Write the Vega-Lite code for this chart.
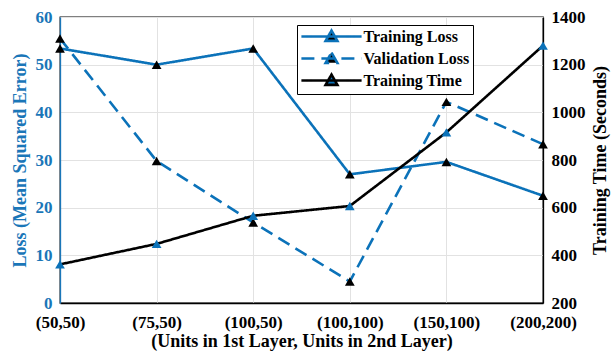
{
  "$schema": "https://vega.github.io/schema/vega-lite/v6.json",
  "width": 483,
  "height": 286,
  "autosize": {"type": "none"},
  "padding": {"left": 60, "top": 17, "right": 70, "bottom": 49},
  "background": "white",
  "config": {
    "font": "Liberation Serif",
    "view": {"stroke": "black", "strokeWidth": 1.3},
    "axis": {
      "labelFont": "Liberation Serif",
      "labelFontWeight": "bold",
      "labelFontSize": 17,
      "titleFont": "Liberation Serif",
      "titleFontWeight": "bold",
      "titleFontSize": 18,
      "gridColor": "#e2e2e2",
      "gridWidth": 1,
      "ticks": false,
      "domainWidth": 1.3
    },
    "legend": {
      "symbolType": "M-4.3,0L4.3,0M0,-0.84L0.84,0.62L-0.84,0.62Z",
      "symbolSize": 196,
      "symbolStrokeWidth": 2.6,
      "symbolOffset": 23,
      "labelFont": "Liberation Serif",
      "labelFontSize": 16,
      "labelFontWeight": "bold",
      "labelColor": "black",
      "labelOffset": 23.5,
      "strokeColor": "black",
      "fillColor": "white",
      "padding": 3,
      "rowPadding": 0
    }
  },
  "data": {
    "values": [
      {"config": "(50,50)", "series": "Training Loss", "value": 53.4, "axis": "loss"},
      {"config": "(75,50)", "series": "Training Loss", "value": 50.0, "axis": "loss"},
      {"config": "(100,50)", "series": "Training Loss", "value": 53.4, "axis": "loss"},
      {"config": "(100,100)", "series": "Training Loss", "value": 27.0, "axis": "loss"},
      {"config": "(150,100)", "series": "Training Loss", "value": 29.6, "axis": "loss"},
      {"config": "(200,200)", "series": "Training Loss", "value": 22.5, "axis": "loss"},
      {"config": "(50,50)", "series": "Validation Loss", "value": 55.5, "axis": "loss"},
      {"config": "(75,50)", "series": "Validation Loss", "value": 29.8, "axis": "loss"},
      {"config": "(100,50)", "series": "Validation Loss", "value": 16.9, "axis": "loss"},
      {"config": "(100,100)", "series": "Validation Loss", "value": 4.5, "axis": "loss"},
      {"config": "(150,100)", "series": "Validation Loss", "value": 42.2, "axis": "loss"},
      {"config": "(200,200)", "series": "Validation Loss", "value": 33.3, "axis": "loss"},
      {"config": "(50,50)", "series": "Training Time", "value": 362, "axis": "time"},
      {"config": "(75,50)", "series": "Training Time", "value": 448, "axis": "time"},
      {"config": "(100,50)", "series": "Training Time", "value": 566, "axis": "time"},
      {"config": "(100,100)", "series": "Training Time", "value": 607, "axis": "time"},
      {"config": "(150,100)", "series": "Training Time", "value": 916, "axis": "time"},
      {"config": "(200,200)", "series": "Training Time", "value": 1280, "axis": "time"}
    ]
  },
  "encoding": {
    "x": {
      "field": "config",
      "type": "ordinal",
      "sort": ["(50,50)", "(75,50)", "(100,50)", "(100,100)", "(150,100)", "(200,200)"],
      "scale": {"type": "point", "padding": 0},
      "axis": {
        "labelAngle": 0,
        "labelAlign": "center",
        "labelFlush": false,
        "labelOverlap": false,
        "title": "(Units in 1st Layer, Units in 2nd Layer)",
        "grid": true,
        "domainColor": "black",
        "labelColor": "black",
        "titleColor": "black",
        "labelPadding": 11,
        "titlePadding": 2
      }
    }
  },
  "layer": [
    {
      "transform": [{"filter": "datum.axis === 'loss'"}],
      "layer": [
        {
          "mark": {"type": "line", "strokeWidth": 2.6},
          "encoding": {
            "y": {
              "field": "value",
              "type": "quantitative",
              "scale": {"domain": [0, 60], "nice": false},
              "axis": {
                "orient": "left",
                "values": [0, 10, 20, 30, 40, 50, 60],
                "title": "Loss (Mean Squared Error)",
                "grid": true,
                "domainColor": "#1a76b8",
                "labelColor": "#1a76b8",
                "titleColor": "#1a76b8",
                "labelPadding": 8,
                "titlePadding": 6
              }
            },
            "stroke": {
              "field": "series",
              "type": "nominal",
              "scale": {
                "domain": ["Training Loss", "Validation Loss", "Training Time"],
                "range": ["#0b72b9", "#0b72b9", "#000000"]
              },
              "legend": {"title": null, "orient": "none", "legendX": 237, "legendY": 8}
            },
            "strokeDash": {
              "field": "series",
              "type": "nominal",
              "scale": {
                "domain": ["Training Loss", "Validation Loss", "Training Time"],
                "range": [[1, 0], [13, 7], [1, 0]]
              },
              "legend": {"title": null, "orient": "none", "legendX": 237, "legendY": 8}
            }
          }
        },
        {
          "mark": {"type": "point", "shape": "triangle-up", "filled": true, "size": 95, "opacity": 1},
          "encoding": {
            "y": {"field": "value", "type": "quantitative"},
            "fill": {
              "field": "series",
              "type": "nominal",
              "scale": {
                "domain": ["Training Loss", "Validation Loss", "Training Time"],
                "range": ["#000000", "#000000", "#0b72b9"]
              },
              "legend": {"title": null, "orient": "none", "legendX": 237, "legendY": 8}
            }
          }
        }
      ]
    },
    {
      "transform": [{"filter": "datum.axis === 'time'"}],
      "layer": [
        {
          "mark": {"type": "line", "strokeWidth": 2.6},
          "encoding": {
            "y": {
              "field": "value",
              "type": "quantitative",
              "scale": {"domain": [200, 1400], "nice": false},
              "axis": {
                "orient": "right",
                "values": [200, 400, 600, 800, 1000, 1200, 1400],
                "format": "d",
                "title": "Training Time (Seconds)",
                "grid": false,
                "domainColor": "black",
                "labelColor": "black",
                "titleColor": "black",
                "labelPadding": 8,
                "titlePadding": 6,
                "titleAngle": 270,
                "titleBaseline": "top"
              }
            },
            "stroke": {"field": "series", "type": "nominal"},
            "strokeDash": {"field": "series", "type": "nominal"}
          }
        },
        {
          "mark": {"type": "point", "shape": "triangle-up", "filled": true, "size": 95, "opacity": 1},
          "encoding": {
            "y": {"field": "value", "type": "quantitative"},
            "fill": {"field": "series", "type": "nominal"}
          }
        }
      ]
    }
  ],
  "resolve": {"scale": {"y": "independent"}}
}
